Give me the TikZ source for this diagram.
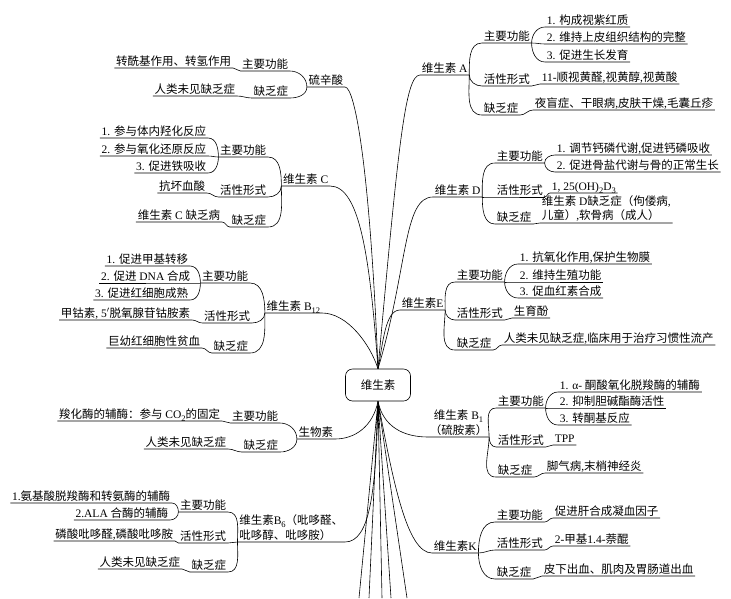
\documentclass[tikz,border=0pt]{standalone}
\usepackage{fontspec}
\setmainfont{Liberation Serif}
\newfontfamily\cjkfont{Noto Sans CJK SC}

% switch to the CJK face for Han characters and full-width punctuation
\XeTeXinterchartokenstate=1
\newXeTeXintercharclass\hanclass
\newcount\hancount
\def\sethan#1#2{\hancount=#1\relax
  \loop\XeTeXcharclass\hancount=\hanclass
  \ifnum\hancount<#2\advance\hancount by 1\repeat}
\sethan{"4E00}{"9FFF}
\sethan{"3000}{"303F}
\sethan{"FF00}{"FFEF}
\XeTeXinterchartoks 0 \hanclass = {\cjkfont}
\XeTeXinterchartoks 4095 \hanclass = {\cjkfont}
\XeTeXinterchartoks \hanclass 0 = {\rmfamily}
\XeTeXinterchartoks \hanclass 4095 = {\rmfamily}

\newcommand\mmfont{\fontsize{11.5}{14.5}\selectfont}
\newcommand\lo[1]{\raisebox{-0.25em}{\fontsize{8.5}{9}\selectfont #1}}

\begin{document}
\begin{tikzpicture}[
  x=1pt, y=1pt, line width=0.6pt,
  every node/.style={font=\mmfont, inner xsep=1.5pt, inner ysep=1.2pt, text depth=0.12em},
  rt/.style={anchor=south west},
  lt/.style={anchor=south east},
  ml/.style={align=left, text depth=},
  hub/.style={draw, rounded corners=7pt, minimum width=65pt, minimum height=32pt,
              inner sep=0pt, text depth=},
  ru/.style={out=90, in=180}, rd/.style={out=-90, in=180}, rs/.style={out=0, in=180},
  lu/.style={out=90, in=0},   ld/.style={out=-90, in=0},   ls/.style={out=180, in=0},
]
\useasboundingbox (0,0) rectangle (731,-598);

\node[hub] (root) at (378,-385) {维生素};

% --- left: 硫辛酸 ---
\node[lt] (la)   at (345,-87) {硫辛酸};
\node[lt] (la1)  at (290,-71) {主要功能};
\node[lt] (la2)  at (290,-98) {缺乏症};
\node[lt] (la11) at (233,-68) {转酰基作用、转氢作用};
\node[lt] (la21) at (237,-96) {人类未见缺乏症};

% --- left: 维生素C ---
\node[lt] (vc)   at (330,-186) {维生素 C};
\node[lt] (vc1)  at (268,-157) {主要功能};
\node[lt] (vc2)  at (268,-197) {活性形式};
\node[lt] (vc3)  at (268,-227) {缺乏症};
\node[lt] (vc11) at (208,-138) {1. 参与体内羟化反应};
\node[lt] (vc12) at (208,-156) {2. 参与氧化还原反应};
\node[lt] (vc13) at (208,-173) {3. 促进铁吸收};
\node[lt] (vc21) at (207,-193) {抗坏血酸};
\node[lt] (vc31) at (222,-222) {维生素 C 缺乏病};

% --- left: 维生素B12 ---
\node[lt] (vbb)   at (322,-313) {维生素 B\lo{12}};
\node[lt] (vbb1)  at (250,-283) {主要功能};
\node[lt] (vbb2)  at (252,-323) {活性形式};
\node[lt] (vbb3)  at (250,-353) {缺乏症};
\node[lt] (vbb11) at (190,-266) {1. 促进甲基转移};
\node[lt] (vbb12) at (192,-283) {2. 促进 DNA 合成};
\node[lt] (vbb13) at (190,-300) {3. 促进红细胞成熟};
\node[lt] (vbb21) at (192,-320) {甲钴素, 5$'$脱氧腺苷钴胺素};
\node[lt] (vbb31) at (202,-348) {巨幼红细胞性贫血};

% --- left: 生物素 ---
\node[lt] (bt)   at (335,-439) {生物素};
\node[lt] (bt1)  at (280,-423) {主要功能};
\node[lt] (bt2)  at (280,-452) {缺乏症};
\node[lt] (bt11) at (222,-421) {羧化酶的辅酶：参与 CO\lo{2}的固定};
\node[lt] (bt21) at (228,-449) {人类未见缺乏症};

% --- left: 维生素B6 ---
\node[lt, ml] (vbf) at (345,-542) {维生素B\lo{6}（吡哆醛、\\吡哆醇、吡哆胺）};
\node[lt] (vbf1)  at (228,-512) {主要功能};
\node[lt] (vbf2)  at (228,-543) {活性形式};
\node[lt] (vbf3)  at (228,-572) {缺乏症};
\node[lt] (vbf11) at (172,-503) {1.氨基酸脱羧酶和转氨酶的辅酶};
\node[lt] (vbf12) at (170,-520) {2.ALA 合酶的辅酶};
\node[lt] (vbf21) at (175,-541) {磷酸吡哆醛,磷酸吡哆胺};
\node[lt] (vbf31) at (182,-569) {人类未见缺乏症};

% --- right: 维生素A ---
\node[rt] (va)   at (420,-75) {维生素 A};
\node[rt] (va1)  at (482,-43) {主要功能};
\node[rt] (va2)  at (482,-86) {活性形式};
\node[rt] (va3)  at (482,-115) {缺乏症};
\node[rt] (va11) at (545,-27) {1. 构成视紫红质};
\node[rt] (va12) at (545,-44) {2. 维持上皮组织结构的完整};
\node[rt] (va13) at (545,-62) {3. 促进生长发育};
\node[rt] (va21) at (540,-84) {11-顺视黄醛,视黄醇,视黄酸};
\node[rt] (va31) at (533,-110) {夜盲症、干眼病,皮肤干燥,毛囊丘疹};

% --- right: 维生素D ---
\node[rt] (vd)   at (433,-197) {维生素 D};
\node[rt] (vd1)  at (495,-163) {主要功能};
\node[rt] (vd2)  at (495,-197) {活性形式};
\node[rt] (vd3)  at (495,-224) {缺乏症};
\node[rt] (vd11) at (555,-155) {1. 调节钙磷代谢,促进钙磷吸收};
\node[rt] (vd12) at (555,-172) {2. 促进骨盐代谢与骨的正常生长};
\node[rt] (vd21) at (550,-193) {1, 25(OH)\lo{2}D\lo{3}};
\node[rt, ml] (vd31) at (540,-223) {维生素 D缺乏症（佝偻病,\\儿童）,软骨病（成人）};

% --- right: 维生素E ---
\node[rt] (ve)   at (400,-310) {维生素E};
\node[rt] (ve1)  at (455,-282) {主要功能};
\node[rt] (ve2)  at (455,-320) {活性形式};
\node[rt] (ve3)  at (455,-350) {缺乏症};
\node[rt] (ve11) at (518,-264) {1. 抗氧化作用,保护生物膜};
\node[rt] (ve12) at (518,-282) {2. 维持生殖功能};
\node[rt] (ve13) at (518,-298) {3. 促血红素合成};
\node[rt] (ve21) at (512,-318) {生育酚};
\node[rt] (ve31) at (502,-345) {人类未见缺乏症,临床用于治疗习惯性流产};

% --- right: 维生素B1 ---
\node[rt, ml, align=center] (vba) at (428,-437) {维生素 B\lo{1}\\（硫胺素）};
\node[rt] (vba1)  at (496,-408) {主要功能};
\node[rt] (vba2)  at (496,-447) {活性形式};
\node[rt] (vba3)  at (496,-477) {缺乏症};
\node[rt] (vba11) at (558,-392) {1. α- 酮酸氧化脱羧酶的辅酶};
\node[rt] (vba12) at (558,-408) {2. 抑制胆碱酯酶活性};
\node[rt] (vba13) at (558,-425) {3. 转酮基反应};
\node[rt] (vba21) at (553,-445) {TPP};
\node[rt] (vba31) at (545,-473) {脚气病,末梢神经炎};

% --- right: 维生素K ---
\node[rt] (vk)   at (432,-553) {维生素K};
\node[rt] (vk1)  at (495,-522) {主要功能};
\node[rt] (vk2)  at (495,-550) {活性形式};
\node[rt] (vk3)  at (495,-579) {缺乏症};
\node[rt] (vk11) at (553,-518) {促进肝合成凝血因子};
\node[rt] (vk21) at (553,-546) {2-甲基1.4-萘醌};
\node[rt] (vk31) at (542,-576) {皮下出血、肌肉及胃肠道出血};

% branches running off the bottom edge
\coordinate (off1) at (359,-598);
\coordinate (off2) at (369,-598);
\coordinate (off3) at (382,-598);
\coordinate (off4) at (391,-598);
\coordinate (off5) at (407,-598);

% --- trunks from the hub ---
\draw (root.north) .. controls +(-8,200) and +(10,0) .. (la.south east) -- (la.south west);
\draw (root.north) .. controls +(-8,110) and +(30,0) .. (vc.south east) -- (vc.south west);
\draw (root.north) .. controls +(-8,25) and +(25,0) .. (vbb.south east) -- (vbb.south west);
\draw (root.north) .. controls +(20,220) and +(-15,0) .. (va.south west) -- (va.south east);
\draw (root.north) .. controls +(30,100) and +(-30,0) .. (vd.south west) -- (vd.south east);
\draw (root.north) .. controls +(5,25) and +(-15,0) .. (ve.south west) -- (ve.south east);
\draw (root.south) .. controls +(-5,-25) and +(20,0) .. (bt.south east) -- (bt.south west);
\draw (root.south) .. controls +(-2,-90) and +(25,0) .. (vbf.south east) -- (vbf.south west);
\draw (root.south) .. controls +(5,-25) and +(-25,0) .. (vba.south west) -- (vba.south east);
\draw (root.south) .. controls +(15,-80) and +(-25,0) .. (vk.south west) -- (vk.south east);
\draw (root.south) -- (off1) (root.south) -- (off2) (root.south) -- (off3)
      (root.south) -- (off4) (root.south) -- (off5);

% --- left children ---
\draw (la.south west) to[lu] (la1.south east) -- (la1.south west);
\draw (la.south west) to[ld] (la2.south east) -- (la2.south west);
\draw (la1.south west) to[ls] (la11.south east) -- (la11.south west);
\draw (la2.south west) to[ls] (la21.south east) -- (la21.south west);

\draw (vc.south west) to[lu] (vc1.south east) -- (vc1.south west);
\draw (vc.south west) to[ld] (vc2.south east) -- (vc2.south west);
\draw (vc.south west) to[ld] (vc3.south east) -- (vc3.south west);
\draw (vc1.south west) to[lu] (vc11.south east) -- (vc11.south west);
\draw (vc1.south west) to[ls] (vc12.south east) -- (vc12.south west);
\draw (vc1.south west) to[ld] (vc13.south east) -- (vc13.south west);
\draw (vc2.south west) to[ls] (vc21.south east) -- (vc21.south west);
\draw (vc3.south west) to[ls] (vc31.south east) -- (vc31.south west);

\draw (vbb.south west) to[lu] (vbb1.south east) -- (vbb1.south west);
\draw (vbb.south west) to[ld] (vbb2.south east) -- (vbb2.south west);
\draw (vbb.south west) to[ld] (vbb3.south east) -- (vbb3.south west);
\draw (vbb1.south west) to[lu] (vbb11.south east) -- (vbb11.south west);
\draw (vbb1.south west) to[ls] (vbb12.south east) -- (vbb12.south west);
\draw (vbb1.south west) to[ld] (vbb13.south east) -- (vbb13.south west);
\draw (vbb2.south west) to[ls] (vbb21.south east) -- (vbb21.south west);
\draw (vbb3.south west) to[ls] (vbb31.south east) -- (vbb31.south west);

\draw (bt.south west) to[lu] (bt1.south east) -- (bt1.south west);
\draw (bt.south west) to[ld] (bt2.south east) -- (bt2.south west);
\draw (bt1.south west) to[ls] (bt11.south east) -- (bt11.south west);
\draw (bt2.south west) to[ls] (bt21.south east) -- (bt21.south west);

\draw (vbf.south west) to[lu] (vbf1.south east) -- (vbf1.south west);
\draw (vbf.south west) to[ls] (vbf2.south east) -- (vbf2.south west);
\draw (vbf.south west) to[ld] (vbf3.south east) -- (vbf3.south west);
\draw (vbf1.south west) to[lu] (vbf11.south east) -- (vbf11.south west);
\draw (vbf1.south west) to[ld] (vbf12.south east) -- (vbf12.south west);
\draw (vbf2.south west) to[ls] (vbf21.south east) -- (vbf21.south west);
\draw (vbf3.south west) to[ls] (vbf31.south east) -- (vbf31.south west);

% --- right children ---
\draw (va.south east) to[ru] (va1.south west) -- (va1.south east);
\draw (va.south east) to[rd] (va2.south west) -- (va2.south east);
\draw (va.south east) to[rd] (va3.south west) -- (va3.south east);
\draw (va1.south east) to[ru] (va11.south west) -- (va11.south east);
\draw (va1.south east) to[rs] (va12.south west) -- (va12.south east);
\draw (va1.south east) to[rd] (va13.south west) -- (va13.south east);
\draw (va2.south east) to[rs] (va21.south west) -- (va21.south east);
\draw (va3.south east) to[rs] (va31.south west) -- (va31.south east);

\draw (vd.south east) to[ru] (vd1.south west) -- (vd1.south east);
\draw (vd.south east) to[rs] (vd2.south west) -- (vd2.south east);
\draw (vd.south east) to[rd] (vd3.south west) -- (vd3.south east);
\draw (vd1.south east) to[ru] (vd11.south west) -- (vd11.south east);
\draw (vd1.south east) to[rd] (vd12.south west) -- (vd12.south east);
\draw (vd2.south east) to[rs] (vd21.south west) -- (vd21.south east);
\draw (vd3.south east) to[rs] (vd31.south west) -- (vd31.south east);

\draw (ve.south east) to[ru] (ve1.south west) -- (ve1.south east);
\draw (ve.south east) to[rd] (ve2.south west) -- (ve2.south east);
\draw (ve.south east) to[rd] (ve3.south west) -- (ve3.south east);
\draw (ve1.south east) to[ru] (ve11.south west) -- (ve11.south east);
\draw (ve1.south east) to[rs] (ve12.south west) -- (ve12.south east);
\draw (ve1.south east) to[rd] (ve13.south west) -- (ve13.south east);
\draw (ve2.south east) to[rs] (ve21.south west) -- (ve21.south east);
\draw (ve3.south east) to[rs] (ve31.south west) -- (ve31.south east);

\draw (vba.south east) to[ru] (vba1.south west) -- (vba1.south east);
\draw (vba.south east) to[rd] (vba2.south west) -- (vba2.south east);
\draw (vba.south east) to[rd] (vba3.south west) -- (vba3.south east);
\draw (vba1.south east) to[ru] (vba11.south west) -- (vba11.south east);
\draw (vba1.south east) to[rs] (vba12.south west) -- (vba12.south east);
\draw (vba1.south east) to[rd] (vba13.south west) -- (vba13.south east);
\draw (vba2.south east) to[rs] (vba21.south west) -- (vba21.south east);
\draw (vba3.south east) to[rs] (vba31.south west) -- (vba31.south east);

\draw (vk.south east) to[ru] (vk1.south west) -- (vk1.south east);
\draw (vk.south east) to[rs] (vk2.south west) -- (vk2.south east);
\draw (vk.south east) to[rd] (vk3.south west) -- (vk3.south east);
\draw (vk1.south east) to[rs] (vk11.south west) -- (vk11.south east);
\draw (vk2.south east) to[rs] (vk21.south west) -- (vk21.south east);
\draw (vk3.south east) to[rs] (vk31.south west) -- (vk31.south east);
\end{tikzpicture}
\end{document}
